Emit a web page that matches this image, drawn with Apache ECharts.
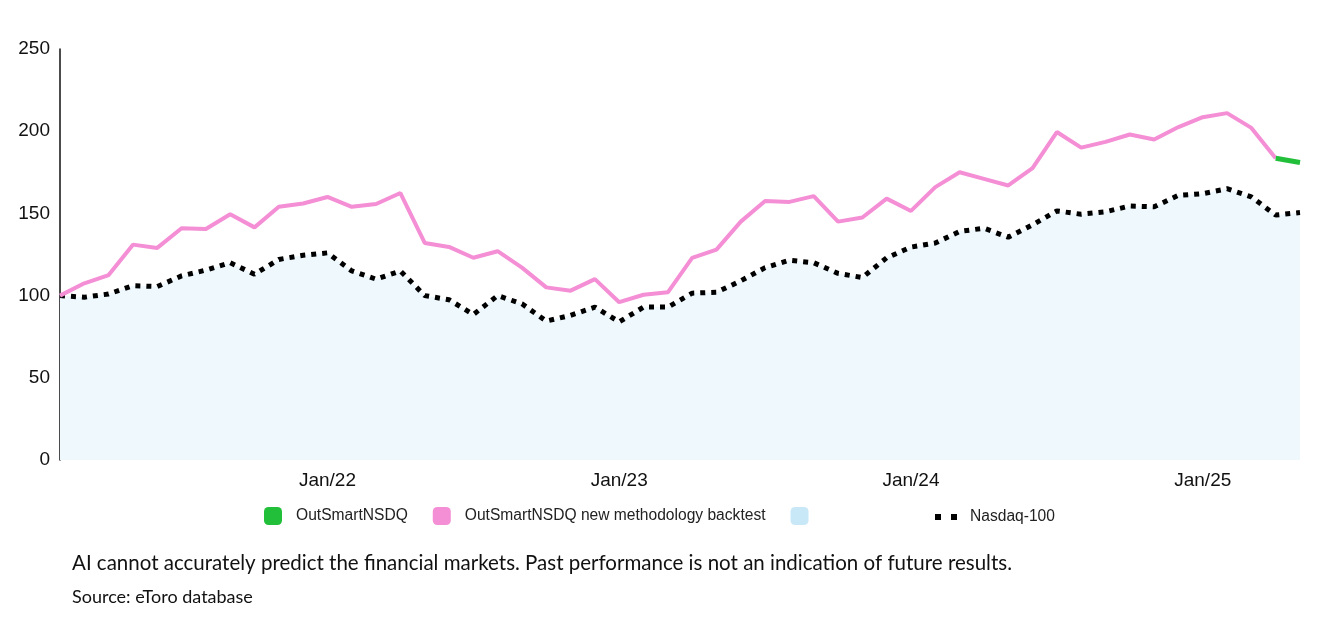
<!DOCTYPE html>
<html>
<head>
<meta charset="utf-8">
<script src="https://cdn.jsdelivr.net/npm/echarts@6/dist/echarts.min.js"></script>
<style>html,body{margin:0;padding:0;background:#fff;}#c{width:1317px;height:635px;}</style>
</head>
<body>
<div id="c"></div>
<script>
const months = [];
(function(){
  const mn = ['Jan','Feb','Mar','Apr','May','Jun','Jul','Aug','Sep','Oct','Nov','Dec'];
  let m = 1, y = 21;
  for (let i = 0; i < 52; i++) {
    months.push(mn[m] + '/' + y);
    m++; if (m === 12) { m = 0; y++; }
  }
})();
const backtest = [100,107.5,112.5,131,129,141,140.5,149.5,141.5,154,156,160,154,155.7,162.4,132,129.6,123,127,117,105,103,110,96,100.5,102,123,128,145,157.5,157,160.5,145,147.5,159,151.5,166,175,171,167,177.5,199.5,190,193.5,198,195,202.5,208.5,211,202,183.5,null];
const outsmart = [null,null,null,null,null,null,null,null,null,null,null,null,null,null,null,null,null,null,null,null,null,null,null,null,null,null,null,null,null,null,null,null,null,null,null,null,null,null,null,null,null,null,null,null,null,null,null,null,null,null,183.5,181];
const nasdaq = [100,99,101,106,105.5,112,115.5,120,113,122,124.5,126,115,110,115,100,97.5,88.5,100,95,84.5,88,93,84,93,93,101.5,102,109,117,121.5,120,113.5,111,123,129.5,132,139,141,135.5,143,151.5,149.5,151,154.5,154,161,162,165,160,149,150.5];
const yTicks = [0,50,100,150,200,250];

const chart = echarts.init(document.getElementById('c'));
chart.setOption({
  animation: false,
  grid: {left: 60, right: 17, top: 49, bottom: 175},
  legend: [{
    left: 264, top: 507, padding: 0, itemWidth: 18, itemHeight: 18, itemGap: 25, icon: 'roundRect',
    textStyle: {fontFamily: 'Liberation Sans', fontSize: 15.6, color: '#222', padding: [0,0,0,9]},
    data: [
      {name: 'OutSmartNSDQ', itemStyle: {color: '#22bf3a'}},
      {name: 'OutSmartNSDQ new methodology backtest', itemStyle: {color: '#f48ed5'}},
      {name: ' ', itemStyle: {color: '#c8e8f8'}}
    ]
  }, {
    left: 935, top: 509, padding: 0, itemWidth: 22, itemHeight: 18,
    icon: 'path://M0,6h6v6h-6z M16,6h6v6h-6z',
    textStyle: {fontFamily: 'Liberation Sans', fontSize: 15.6, color: '#222', padding: [0,0,0,8]},
    data: [{name: 'Nasdaq-100', itemStyle: {color: '#000'}}]
  }],
  xAxis: {
    type: 'category', data: months, boundaryGap: false,
    axisLine: {show: false}, axisTick: {show: false},
    axisLabel: {interval: function(i){ return i % 12 === 11; }, margin: 11, fontFamily: 'Liberation Sans', fontSize: 19, color: '#111'}
  },
  yAxis: {
    type: 'value', min: 0, max: 250, interval: 50,
    axisLine: {show: true, lineStyle: {color: '#111', width: 1.5}},
    axisTick: {show: false}, splitLine: {show: false},
    axisLabel: {margin: 10, fontFamily: 'Liberation Sans', fontSize: 19, color: '#111',
      formatter: function(v){ return yTicks.indexOf(v) >= 0 ? String(v) : ''; }}
  },
  graphic: [
    {type: 'text', left: 72, top: 553, style: {text: 'AI cannot accurately predict the financial markets. Past performance is not an indication of future results.', font: '20.5px Lato', fill: '#111'}},
    {type: 'text', left: 72, top: 588, style: {text: 'Source: eToro database', font: '18px Lato', fill: '#111'}}
  ],
  series: [
    {name: ' ', type: 'line', data: nasdaq, showSymbol: false, symbol: 'none', lineStyle: {width: 0}, itemStyle: {color: '#c8e8f8'}, areaStyle: {color: '#eef8fd', opacity: 1}, z: 1},
    {name: 'Nasdaq-100', type: 'line', data: nasdaq, showSymbol: false, symbol: 'none', lineStyle: {color: '#000', width: 5, type: [5,6], cap: 'butt'}, itemStyle: {color: '#000'}, z: 3},
    {name: 'OutSmartNSDQ new methodology backtest', type: 'line', data: backtest, showSymbol: false, symbol: 'none', lineStyle: {color: '#f48ed5', width: 4}, itemStyle: {color: '#f48ed5'}, z: 4},
    {name: 'OutSmartNSDQ', type: 'line', data: outsmart, showSymbol: false, symbol: 'none', lineStyle: {color: '#22bf3a', width: 5}, itemStyle: {color: '#22bf3a'}, z: 5}
  ]
});
</script>
</body>
</html>
